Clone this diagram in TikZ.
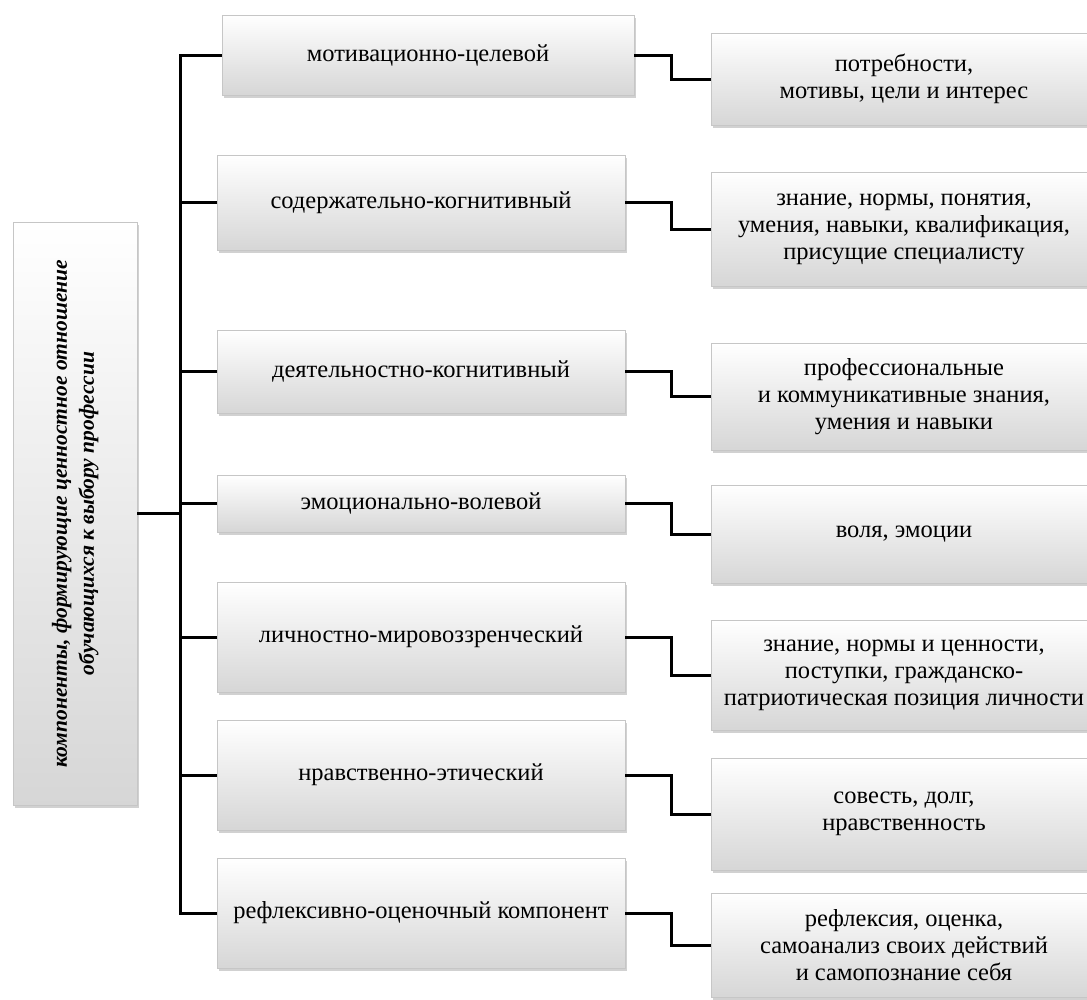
\documentclass[tikz,border=0pt]{standalone}
\usepackage{fontspec}
\setmainfont{Liberation Serif}
\usepackage{graphicx}
\usetikzlibrary{shadows}
\tikzstyle{box} = [draw=gray!45, line width=0.6pt, top color=white, bottom color=gray!32, drop shadow={shadow xshift=1.5pt, shadow yshift=-3pt, opacity=0.45, fill=gray!80}, align=center, inner sep=0pt, font={\fontsize{24.5}{27}\selectfont}]
\tikzstyle{comp} = [box, minimum width=408pt]
\tikzstyle{desc} = [box, minimum width=386pt]
\tikzstyle{lead} = [box, minimum width=124pt, minimum height=583pt, font={\bfseries\itshape\fontsize{21.5}{27}\selectfont}]
\tikzstyle{link} = [line width=3pt]

\begin{document}
\begin{tikzpicture}[x=1pt,y=-1pt]
  \useasboundingbox (0,0) rectangle (1087,999);
  \node[lead](lead) at (75,513.5){\rotatebox{90}{\begin{tabular}{@{}c@{}}компоненты, формирующие ценностное отношение\\обучающихся к выбору профессии\end{tabular}}};
  % components
  \node[comp,minimum width=412pt,minimum height=80pt](m1) at (428,55){мотивационно-целевой};
  \node[comp,minimum height=95pt](m2) at (421,202.5){содержательно-когнитивный};
  \node[comp,minimum height=83pt](m3) at (421,371.5){деятельностно-когнитивный};
  \node[comp,minimum height=57pt](m4) at (421,503.5){эмоционально-волевой};
  \node[comp,minimum height=110pt](m5) at (421,637){личностно-мировоззренческий};
  \node[comp,minimum height=110pt](m6) at (421,775){нравственно-этический};
  \node[comp,minimum height=110pt](m7) at (421,913){рефлексивно-оценочный компонент};
  % descriptions
  \node[desc,minimum height=92pt](r1) at (904,79){потребности,\\мотивы, цели и интерес};
  \node[desc,minimum height=114pt](r2) at (904,229){знание, нормы, понятия,\\умения, навыки, квалификация,\\присущие специалисту};
  \node[desc,minimum height=107pt](r3) at (904,396.5){профессиональные\\и коммуникативные знания,\\умения и навыки};
  \node[desc,minimum height=98pt](r4) at (904,534){воля, эмоции};
  \node[desc,minimum height=110pt](r5) at (904,675){знание, нормы и ценности,\\поступки, гражданско-\\патриотическая позиция личности};
  \node[desc,minimum height=112pt](r6) at (904,814){совесть, долг,\\нравственность};
  \node[desc,minimum height=104pt](r7) at (904,945){рефлексия, оценка,\\самоанализ своих действий\\и самопознание себя};
  \coordinate (bus) at (180,0);
  \coordinate (elb) at (671,0);
  \foreach \i in {1,...,7}{
    \draw[link](lead.east) -| (bus |- m\i.west) -- (m\i.west);
    \draw[link](m\i.east) -- (m\i.east -| elb) |- (r\i.west);
  }
\end{tikzpicture}
\end{document}
